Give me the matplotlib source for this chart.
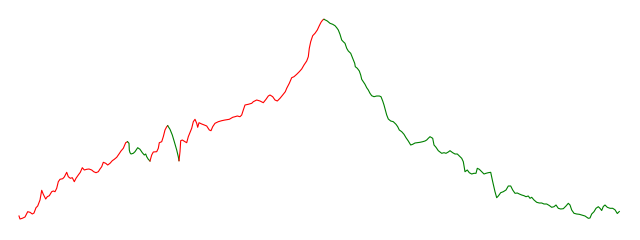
import numpy as np
import matplotlib
matplotlib.use('Agg')
import matplotlib.pyplot as plt

# ------------------------------------------------------------------
# Kursverlauf, Tag und Wert
# ------------------------------------------------------------------
day = [
  0, 1, 3.3, 6, 8.7, 11, 13.3, 15, 17, 18.7,
  21, 22.7, 24.3, 26.7, 28.3, 30.3, 32.7, 34.3, 36, 37.7,
  39.3, 41, 43.7, 45.3, 47.7, 49.3, 51.3, 53.3, 55.3, 57,
  59.3, 61.3, 63.3, 65.3, 67.7, 70, 72.7, 74.7, 77, 79.3,
  81, 82.7, 84.3, 86.7, 88.7, 91, 93.3, 95.3, 97.7, 100,
  102, 104.3, 106.7, 108.5,
  # Abschwung 1
  110, 110.3, 111, 112, 114.3, 116, 118.7, 121, 123.3, 125.3,
  126.7, 127.7, 129.3, 131,
  # Aufschwung 2
  132.7, 134.3, 137.7, 139.3, 140.3, 142.7, 144.3, 146, 147.7, 148.7,
  # Abschwung 2
  151, 153.3, 155.3, 157.7, 159.3, 160,
  # Aufschwung 3
  161, 161.7, 163.3, 166, 167.7, 169.3, 172.7, 174.3, 176, 177.7,
  178.7, 180, 182.7, 185.3, 187.7, 190.3, 192, 193.7, 196, 199.3,
  202.7, 206, 210.3, 213.7, 216, 218.3, 221, 222.7, 224.3, 226,
  229.3, 232.7, 234.3, 237.7, 241, 244.3, 247, 249.3, 251, 253.7,
  256, 258.3, 261, 263.7, 266.3, 267.7, 270.3, 272.7, 275, 277.7,
  280.3, 282.7, 285, 287.7, 289.3, 290.3, 291.7, 293.7, 296, 298.3,
  300.3, 302, 303.7, 305,
  # Abschwung 3
  308.3, 311, 313.7, 316, 317.7, 319.3, 321, 322.7, 324.3, 326,
  327.7, 329.3, 331.7, 333.7, 335.7, 336.3, 338.3, 340.3, 341.7, 342.7,
  344.3, 346, 347.7, 349.3, 351, 352.7, 355, 357.7, 360.3, 362,
  363.7, 365, 366.3, 367.7, 369.3, 371.7, 374.3, 377, 378.7, 380.3,
  382.7, 385, 387, 389.3, 391.7, 393.7, 396, 398.3, 401, 403.7,
  406, 407.7, 409.3, 411, 413.7, 415, 417, 419.3, 422.7, 425,
  427, 429.3, 431, 433.7, 436, 438.3, 440.3, 442.7, 444.3, 446,
  448.3, 450.3, 452.7, 455, 457, 458.3, 460.3, 462.7, 465, 467,
  469.3, 471.7, 473.7, 476, 477.7, 479.3, 481.7, 484.3, 487, 489.3,
  491.7, 493.7, 496, 498.3, 500.3, 502.7, 505, 507, 509.3, 511,
  512.7, 515, 517.7, 520.3, 522.7, 525, 527.7, 530.3, 532.7, 535,
  537, 539.3, 541.7, 544.3, 547, 549.3, 551, 552.7, 555, 557.7,
  560.3, 562.7, 566, 569.3, 571, 572.7, 575, 577, 579.3, 581,
  582.7, 584.3, 586, 588.3, 591, 593.7, 596, 598.3, 600.3,
]

price = [
  24, 21, 21.7, 23, 28.3, 27.7, 26, 27, 32.3, 34,
  40, 49.7, 45.7, 41, 43.3, 44.3, 48.3, 49, 48.3, 51.7,
  58.3, 60.7, 61.3, 63, 67.7, 63.3, 61.7, 62.3, 58.3, 61.7,
  65, 67.7, 72.3, 70, 70.7, 71, 70, 68.3, 67.3, 68.3,
  71, 73.3, 77.7, 76.7, 75, 76.7, 79.3, 80.7, 82.7, 86,
  89, 91.7, 97.3, 98.3,
  # Abschwung 1
  96.7, 90, 87.3, 86, 86.7, 88.3, 92.3, 90.7, 87.3, 85,
  86, 83.3, 80.7, 79,
  # Aufschwung 2
  85, 88, 88.3, 91.7, 97.3, 98.3, 103.3, 110, 113.3, 114.3,
  # Abschwung 2
  110.7, 105, 98.3, 90, 83.3, 79.3,
  # Aufschwung 3
  88.3, 99.3, 100, 98.3, 97.3, 103.3, 111.7, 118.3, 120.7, 116.7,
  112.7, 117.3, 116, 115, 114, 110, 109.3, 113.3, 116.7, 118.3,
  119.3, 120, 120.7, 122.7, 123.3, 124, 123.3, 125, 130, 135,
  135.7, 136.7, 138.3, 140, 139, 137.3, 140.7, 144, 145, 143.3,
  140, 139, 141.7, 145, 148.3, 151.7, 156.7, 162.3, 163.3, 165.7,
  168.3, 171, 175, 179, 183.3, 191.7, 198.3, 204.3, 206.7, 210,
  214.3, 217.7, 220, 220.7,
  # Abschwung 3
  219, 216.7, 215.7, 214.3, 212.3, 210, 205.7, 200, 198.3, 196.7,
  191.7, 189, 186.7, 181.7, 176.7, 173.3, 171.7, 169, 165, 160.7,
  158.3, 155.7, 152.3, 150, 146.7, 144.3, 143.3, 144, 144, 143.3,
  139, 135, 130, 125, 121, 119, 118.3, 115.7, 113.3, 110,
  108.3, 105.7, 102.3, 99, 95, 95.7, 97, 97.3, 97.7, 98.3,
  99, 100, 101.7, 103.3, 101.7, 95, 92.7, 89.3, 86.7, 87.3,
  86.7, 88, 89.3, 87.3, 86, 86, 84, 81.7, 78.3, 68.3,
  70, 67.3, 66, 66.7, 66.7, 71.7, 70.7, 68.3, 66, 66.7,
  67.3, 67.7, 58.3, 48.3, 42.3, 44, 47.3, 48.3, 50, 54,
  54, 50, 46.7, 47, 46, 45, 44.3, 43.3, 44, 41.7,
  42.7, 40, 37.7, 37, 37, 36, 36, 34.5, 32.7, 33.3,
  35, 31.7, 31, 31.3, 34, 36.7, 35, 30, 26.7, 26,
  25.7, 25, 24, 21.7, 22, 26, 28.3, 31.7, 33.3, 31.7,
  29.5, 33.5, 35, 32.7, 31.7, 31.7, 30.2, 26.5, 28.5,
]

# Ende jeder Trendphase (Tag) und Farbe der Phase
leg_end = [108.5, 131, 148.7, 160, 305, 600.3]
leg_color = ['red', 'green', 'red', 'green', 'red', 'green']

#--------------------------------------------------------------------
day = np.array(day)
price = np.array(price)

fig = plt.figure(figsize=(6.4, 2.4), dpi=100)
fig.patch.set_facecolor('white')
ax = fig.add_axes([0, 0, 1, 1])
ax.set_axis_off()

start = day[0]
for end, col in zip(leg_end, leg_color):
  sel = (day >= start) & (day <= end)
  ax.plot(day[sel], price[sel], color=col, lw=0.8)
  start = end

ax.set_xlim(-19, 621)
ax.set_ylim(0, 240)

fig.savefig('out.png', dpi=100)
